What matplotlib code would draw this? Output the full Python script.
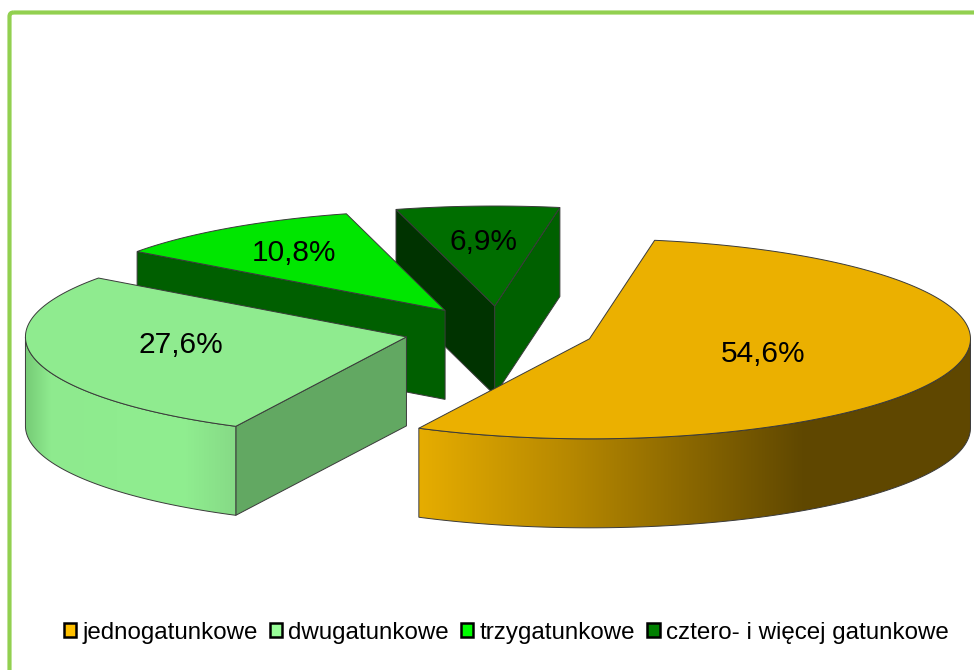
import numpy as np
import matplotlib
matplotlib.use("Agg")
import matplotlib.pyplot as plt
from matplotlib.patches import Polygon, Patch, FancyBboxPatch
from matplotlib.colors import to_rgb

# ---------------- data ----------------
categories = ["jednogatunkowe", "dwugatunkowe", "trzygatunkowe",
              "cztero- i więcej gatunkowe"]
values = [54.6, 27.6, 10.8, 6.9]
labels = ["54,6%", "27,6%", "10,8%", "6,9%"]

# ---------------- style ----------------
legend_colors = ["#FFC000", "#99FF99", "#00FF00", "#008000"]
top_colors = ["#EBB000", "#8FEB8F", "#00E600", "#006E00"]
start_wall_colors = [None, "#62A862", "#005F00", "#003300"]
end_wall_colors = [None, None, None, "#006000"]
rim_gradients = [
    [(0.0, "#E6AD00"), (0.28, "#B58700"), (0.70, "#5F4700"), (1.0, "#604800")],
    [(0.0, "#76CB76"), (0.12, "#8EEA8E"), (0.75, "#90EE90"), (1.0, "#86DA86")],
    None, None,
]
label_r = [0.48, 0.61, 0.70, 0.66]
label_dy = [0, -6, 0, 2]   # small vertical nudges (px)

W, H = 974, 670
CX, CY = 499, 331          # pie centre (px)
RX, RY = 381, 100          # ellipse radii (px)
DEPTH = 89                 # thickness (px)
EXPLODE = 0.25
START = 9.85               # first slice angle, deg clockwise from top
EDGE = "#3A3A3A"

fig = plt.figure(figsize=(W / 100, H / 100), dpi=100)
ax = fig.add_axes([0, 0, 1, 1])
ax.set_axis_off()


def pt(cx, cy, th):
    t = np.radians(th)
    return cx + RX * np.sin(t), cy - RY * np.cos(t)


def arc(cx, cy, a0, a1, n=None):
    if n is None:
        n = max(int(abs(a1 - a0)) * 2, 4)
    th = np.linspace(a0, a1, n)
    x, y = pt(cx, cy, th)
    return np.column_stack([x, y])


def gradient_fill(poly, stops, z):
    xmin, xmax = poly[:, 0].min(), poly[:, 0].max()
    ymin, ymax = poly[:, 1].min(), poly[:, 1].max()
    n = 400
    pos = np.array([s[0] for s in stops])
    cols = np.array([to_rgb(s[1]) for s in stops])
    t = np.linspace(0, 1, n)
    img = np.stack([np.interp(t, pos, cols[:, k]) for k in range(3)], axis=-1)
    img = img[np.newaxis, :, :]
    im = ax.imshow(img, extent=(xmin, xmax, ymax, ymin), aspect="auto",
                   interpolation="bilinear", zorder=z)
    clip = Polygon(poly, closed=True, facecolor="none", edgecolor="none",
                   transform=ax.transData)
    ax.add_patch(clip)
    im.set_clip_path(clip)
    ax.add_patch(Polygon(poly, closed=True, facecolor="none", edgecolor=EDGE,
                         linewidth=0.7, zorder=z + 0.1))


# slice angles
total = sum(values)
angles = []
a = START
for v in values:
    span = 360.0 * v / total
    angles.append((a, a + span))
    a += span

slices = []
for i, (a0, a1) in enumerate(angles):
    mid = 0.5 * (a0 + a1)
    cx = CX + EXPLODE * RX * np.sin(np.radians(mid))
    cy = CY - EXPLODE * RY * np.cos(np.radians(mid))
    slices.append((i, a0, a1, mid, cx, cy))

order = sorted(slices, key=lambda s: s[5])
z = 1
for i, a0, a1, mid, cx, cy in order:
    # radial walls
    if np.sin(np.radians(a0)) < 0 and start_wall_colors[i]:
        px, py = pt(cx, cy, a0)
        poly = np.array([[cx, cy], [px, py], [px, py + DEPTH], [cx, cy + DEPTH]])
        ax.add_patch(Polygon(poly, closed=True, facecolor=start_wall_colors[i],
                             edgecolor=EDGE, linewidth=0.7, zorder=z))
        z += 1
    if np.sin(np.radians(a1)) > 0 and end_wall_colors[i]:
        px, py = pt(cx, cy, a1)
        poly = np.array([[cx, cy], [px, py], [px, py + DEPTH], [cx, cy + DEPTH]])
        ax.add_patch(Polygon(poly, closed=True, facecolor=end_wall_colors[i],
                             edgecolor=EDGE, linewidth=0.7, zorder=z))
        z += 1
    # rim wall (front half: 90..270)
    lo, hi = max(a0, 90), min(a1, 270)
    if hi > lo and rim_gradients[i]:
        top = arc(cx, cy, lo, hi)
        bot = top.copy()
        bot[:, 1] += DEPTH
        poly = np.vstack([top, bot[::-1]])
        gradient_fill(poly, rim_gradients[i], z)
        z += 1
    # top face
    poly = np.vstack([[cx, cy], arc(cx, cy, a0, a1)])
    ax.add_patch(Polygon(poly, closed=True, facecolor=top_colors[i],
                         edgecolor=EDGE, linewidth=0.7, zorder=z))
    z += 1

# labels
for i, a0, a1, mid, cx, cy in slices:
    lx = cx + label_r[i] * RX * np.sin(np.radians(mid))
    ly = cy - label_r[i] * RY * np.cos(np.radians(mid)) + label_dy[i]
    ax.text(lx, ly, labels[i], ha="center", va="center", fontsize=21.5,
            family="Liberation Sans", color="black", zorder=100)

# border
ax.add_patch(FancyBboxPatch((9.5, 12.5), 1000, 700,
                            boxstyle="round,pad=0,rounding_size=4",
                            facecolor="none", edgecolor="#92D050",
                            linewidth=3, zorder=0))

ax.set_xlim(0, W)
ax.set_ylim(H, 0)

handles = [Patch(facecolor=c, edgecolor="black", linewidth=1.8)
           for c in legend_colors]
fig.legend(handles, categories, loc="center",
           bbox_to_anchor=(506 / W, 1 - 633 / H), ncol=4, frameon=False,
           prop={"family": "Liberation Sans", "size": 17.4},
           handlelength=0.52, handleheight=0.52, handletextpad=0.25,
           columnspacing=0.5, borderpad=0)

fig.savefig("out.png", dpi=100)
